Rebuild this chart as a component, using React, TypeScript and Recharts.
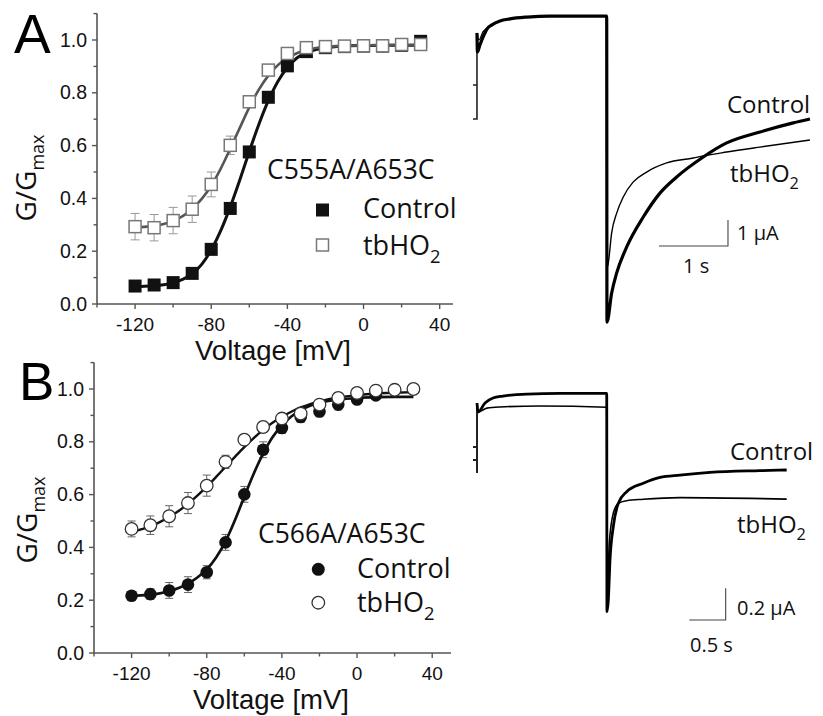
import React from 'react';
import { ComposedChart, LineChart, Line, Scatter, XAxis, YAxis, ErrorBar, Legend } from 'recharts';

const HUM = "'Open Sans', 'Noto Sans', sans-serif";
const ARIAL = "'Liberation Sans', Arial, sans-serif";
const AX = '#555';

// ---------- Panel A: C555A/A653C ----------
const voltages = [-120, -110, -100, -90, -80, -70, -60, -50, -40, -30, -20, -10, 0, 10, 20, 30];
const aControl = [0.068, 0.072, 0.081, 0.116, 0.207, 0.362, 0.576, 0.783, 0.902, 0.956, 0.971, 0.975, 0.977, 0.977, 0.98, 0.995];
const aControlErr = [0.01, 0.01, 0.01, 0.01, 0.01, 0.01, 0.01, 0.01, 0.01, 0.01, 0.01, 0.01, 0.01, 0.01, 0.01, 0.01];
const aTb = [0.293, 0.289, 0.316, 0.359, 0.453, 0.601, 0.766, 0.886, 0.949, 0.971, 0.975, 0.977, 0.978, 0.978, 0.983, 0.983];
const aTbErr = [0.05, 0.05, 0.05, 0.05, 0.047, 0.035, 0.02, 0.015, 0.012, 0.01, 0.01, 0.01, 0.012, 0.01, 0.012, 0.012];

const fitVoltages = [-120, -115, -110, -105, -100, -95, -90, -85, -80, -75, -70, -65, -60, -55, -50, -45, -40, -35, -30, -25, -20, -10, 0, 10, 20, 30];
const aControlFit = [0.066, 0.067, 0.069, 0.073, 0.08, 0.093, 0.114, 0.15, 0.205, 0.278, 0.368, 0.47, 0.578, 0.68, 0.77, 0.843, 0.896, 0.932, 0.952, 0.964, 0.971, 0.977, 0.979, 0.98, 0.98, 0.98];
const aTbFit = [0.29, 0.292, 0.296, 0.303, 0.315, 0.333, 0.36, 0.398, 0.448, 0.513, 0.588, 0.667, 0.745, 0.812, 0.865, 0.905, 0.932, 0.95, 0.962, 0.97, 0.974, 0.978, 0.98, 0.981, 0.981, 0.982];

// ---------- Panel B: C566A/A653C ----------
const bControlVoltages = [-120, -110, -100, -90, -80, -70, -60, -50, -40, -30, -20, -10, 0, 10];
const bControl = [0.217, 0.223, 0.237, 0.259, 0.306, 0.419, 0.601, 0.77, 0.852, 0.894, 0.915, 0.941, 0.96, 0.976];
const bControlErr = [0.015, 0.02, 0.03, 0.03, 0.025, 0.03, 0.03, 0.03, 0.02, 0.02, 0.02, 0.02, 0.015, 0.015];
const bTb = [0.47, 0.484, 0.518, 0.568, 0.634, 0.724, 0.808, 0.856, 0.888, 0.907, 0.941, 0.966, 0.985, 0.994, 0.997, 1.0];
const bTbErr = [0.03, 0.035, 0.04, 0.04, 0.04, 0.025, 0.02, 0.02, 0.015, 0.02, 0.015, 0.02, 0.015, 0.02, 0.02, 0.01];
const bControlFit = [0.216, 0.218, 0.221, 0.226, 0.234, 0.246, 0.263, 0.286, 0.317, 0.362, 0.423, 0.503, 0.592, 0.679, 0.755, 0.817, 0.862, 0.896, 0.92, 0.937, 0.948, 0.96, 0.966, 0.969, 0.97, 0.97];
const bTbFit = [0.458, 0.468, 0.48, 0.496, 0.515, 0.538, 0.565, 0.596, 0.63, 0.667, 0.705, 0.743, 0.78, 0.814, 0.845, 0.872, 0.895, 0.914, 0.93, 0.943, 0.953, 0.968, 0.977, 0.983, 0.986, 0.988];

const xTicks = [-140, -120, -100, -80, -60, -40, -20, 0, 20, 40];
const yTicks = [0, 0.1, 0.2, 0.3, 0.4, 0.5, 0.6, 0.7, 0.8, 0.9, 1.0, 1.1];

// ---------- Current traces A (time in s, current in µA) ----------
const aHoldT = [-0.058, 0, 0, -0.058, 0, 0];
const aHoldI = [0, 0, 1.31, 1.31, 1.31, 3.31];
const aTraceCtrlT = [0, 0.007, 0.043, 0.101, 0.145, 0.217, 0.333, 0.478, 0.725, 1.058, 1.88, 1.884, 1.952, 2.025, 2.17, 2.41, 2.652, 2.894, 3.28, 3.619, 4.101, 4.584, 4.826];
const aTraceCtrlI = [3.31, 2.58, 2.85, 3.23, 3.46, 3.62, 3.77, 3.85, 3.92, 3.96, 3.96, -7.81, -6.69, -5.92, -4.92, -3.77, -2.85, -2.23, -1.46, -0.92, -0.5, -0.15, 0.0];
const aTraceTbT = [0, 0.029, 0.087, 0.145, 0.217, 0.333, 0.478, 0.725, 1.058, 1.88, 1.891, 1.903, 1.952, 2.025, 2.12, 2.265, 2.459, 2.749, 3.135, 3.28, 3.619, 4.101, 4.826];
const aTraceTbI = [3.31, 3.04, 3.35, 3.5, 3.63, 3.77, 3.85, 3.92, 3.96, 3.96, -5.69, -5.54, -4.38, -3.62, -3.0, -2.42, -2.04, -1.69, -1.5, -1.42, -1.27, -1.08, -0.81];
const aScaleT = [2.638, 3.638, 3.638]; // 1 s
const aScaleI = [-4.885, -4.885, -3.885]; // 1 µA

// ---------- Current traces B ----------
const bHoldT = [0, 0, -0.055, 0, 0, -0.055, 0, 0];
const bHoldI = [0, 0.082, 0.082, 0.082, 0.165, 0.165, 0.165, 0.443];
const bTraceCtrlT = [0, 0.014, 0.11, 0.22, 0.357, 0.687, 1.14, 1.782, 1.785, 1.804, 1.827, 1.872, 1.941, 2.056, 2.284, 2.514, 2.788, 3.2, 3.887, 4.254];
const bTraceCtrlI = [0.443, 0.386, 0.443, 0.475, 0.487, 0.5, 0.504, 0.504, -0.878, -0.804, -0.551, -0.34, -0.192, -0.118, -0.065, -0.028, -0.013, 0.004, 0.015, 0.019];
const bTraceTbT = [0, 0.014, 0.137, 0.316, 0.865, 1.782, 1.79, 1.817, 1.872, 1.941, 2.056, 2.284, 2.788, 4.254];
const bTraceTbI = [0.443, 0.386, 0.411, 0.418, 0.424, 0.416, -0.741, -0.445, -0.255, -0.192, -0.175, -0.166, -0.156, -0.165];
const bScaleT = [2.916, 3.416, 3.416]; // 0.5 s
const bScaleI = [-0.93, -0.93, -0.73]; // 0.2 µA

const pts = (xs: number[], ys: number[], es?: number[]) => xs.map((x, i) => ({ v: x, g: ys[i], e: es ? es[i] : 0 }));
const tr = (ts: number[], is: number[]) => ts.map((t, k) => ({ t, i: is[k] }));

const XTick = (props: any) => {
  const { x, y, payload } = props;
  const major = payload.value % 40 === 0;
  return (
    <g>
      <line x1={x} x2={x} y1={y} y2={y + (major ? 5 : 3.5)} stroke={AX} strokeWidth={1.4} />
      {major && (
        <text x={x} y={y + 26.5} textAnchor="middle" fontFamily={ARIAL} fontSize={19} fill="#111">
          {payload.value}
        </text>
      )}
    </g>
  );
};

const YTick = (props: any) => {
  const { x, y, payload } = props;
  const major = Math.round(payload.value * 10) % 2 === 0;
  return (
    <g>
      <line x1={x - (major ? 5 : 3.5)} x2={x} y1={y} y2={y} stroke={AX} strokeWidth={1.4} />
      {major && (
        <text x={x - 10} y={y + 6.5} textAnchor="end" fontFamily={ARIAL} fontSize={19.5} fill="#111">
          {payload.value.toFixed(1)}
        </text>
      )}
    </g>
  );
};

const YLab = (props: any) => (
  <text transform={`translate(${props.px},${props.py}) rotate(-90)`} textAnchor="middle" fontFamily={HUM} fontSize={28} fill="#111">
    G/G<tspan dy={8} fontSize={18}>max</tspan>
  </text>
);

const XLab = (props: any) => (
  <text x={props.px} y={props.py} textAnchor="middle" fontFamily={ARIAL} fontSize={27.5} fill="#111">
    Voltage [mV]
  </text>
);

const Sub2 = ({ x, y, size }: any) => (
  <text x={x} y={y} fontFamily={HUM} fontSize={size} fill="#111">
    tbHO<tspan dy={size * 0.3} fontSize={size * 0.68}>2</tspan>
  </text>
);

const OverlayA = () => (
  <svg width={460} height={370} style={{ display: 'block' }}>
    <text x={14} y={53} fontFamily={ARIAL} fontSize={55} fill="#000">A</text>
    <text x={267} y={179} fontFamily={HUM} fontSize={26.5} fill="#111">C555A/A653C</text>
    <rect x={316} y={203.5} width={13} height={13} fill="#111" />
    <text x={363} y={218} fontFamily={HUM} fontSize={27} fill="#111">Control</text>
    <rect x={316.5} y={239} width={12} height={12} fill="#fff" stroke="#777" strokeWidth={1.5} />
    <Sub2 x={363} y={254.5} size={27} />
  </svg>
);

const OverlayB = () => (
  <svg width={460} height={376} style={{ display: 'block' }}>
    <text x={19} y={60} fontFamily={ARIAL} fontSize={53} fill="#000">B</text>
    <text x={258} y={202.7} fontFamily={HUM} fontSize={26.5} fill="#111">C566A/A653C</text>
    <circle cx={318.3} cy={229.3} r={6.5} fill="#111" />
    <text x={357} y={238.3} fontFamily={HUM} fontSize={27} fill="#111">Control</text>
    <circle cx={318.3} cy={262.7} r={6.3} fill="#fff" stroke="#333" strokeWidth={1.3} />
    <Sub2 x={357} y={271.7} size={27} />
  </svg>
);

const OverlayTraceA = () => (
  <svg width={363} height={340} style={{ display: 'block' }}>
    <text x={267} y={113} fontFamily={HUM} fontSize={24} fill="#111">Control</text>
    <Sub2 x={270} y={182} size={24} />
    <text x={277} y={240} fontFamily={HUM} fontSize={20} fill="#111">1 µA</text>
    <text x={223} y={273} fontFamily={HUM} fontSize={20} fill="#111">1 s</text>
  </svg>
);

const OverlayTraceB = () => (
  <svg width={363} height={376} style={{ display: 'block' }}>
    <text x={270} y={120} fontFamily={HUM} fontSize={24} fill="#111">Control</text>
    <Sub2 x={277} y={193} size={24} />
    <text x={277} y={275} fontFamily={HUM} fontSize={20} fill="#111">0.2 µA</text>
    <text x={230} y={312} fontFamily={HUM} fontSize={20} fill="#111">0.5 s</text>
  </svg>
);

const square = (fill: string, stroke: string, size: number) => (p: any) => (
  <rect x={p.cx - size / 2} y={p.cy - size / 2} width={size} height={size} fill={fill} stroke={stroke} strokeWidth={stroke === 'none' ? 0 : 1.5} />
);
const circle = (fill: string, stroke: string, r: number) => (p: any) => (
  <circle cx={p.cx} cy={p.cy} r={r} fill={fill} stroke={stroke} strokeWidth={stroke === 'none' ? 0 : 1.3} />
);

const legendProps = {
  layout: 'vertical' as const,
  align: 'center' as const,
  verticalAlign: 'middle' as const,
};

const PanelA = () => (
  <ComposedChart width={460} height={370} margin={{ top: 13.6, right: 7, left: 37, bottom: 0 }}>
    <XAxis type="number" dataKey="v" domain={[-140, 47]} ticks={xTicks} allowDataOverflow interval={0}
      axisLine={{ stroke: AX, strokeWidth: 1.6 }} tickLine={false} tickSize={0} tickMargin={0} tick={<XTick />} height={66}
      label={<XLab px={273} py={360} />} />
    <YAxis type="number" domain={[0, 1.1]} ticks={yTicks} allowDataOverflow interval={0} width={60}
      axisLine={{ stroke: AX, strokeWidth: 1.6 }} tickLine={false} tickSize={0} tickMargin={0} tick={<YTick />}
      label={<YLab px={36} py={178} />} />
    <Scatter name="Control" data={pts(voltages, aControl, aControlErr)} dataKey="g" shape={square('#111', 'none', 13)} isAnimationActive={false}>
      <ErrorBar dataKey="e" direction="y" width={4.5} stroke="#999" strokeWidth={1} />
    </Scatter>
    <Scatter name="tbHO2" data={pts(voltages, aTb, aTbErr)} dataKey="g" shape={square('#fff', '#777', 12)} isAnimationActive={false}>
      <ErrorBar dataKey="e" direction="y" width={4.5} stroke="#999" strokeWidth={1} />
    </Scatter>
    <Line data={pts(fitVoltages, aControlFit)} dataKey="g" type="monotone" stroke="#111" strokeWidth={3} dot={false} isAnimationActive={false} legendType="none" />
    <Line data={pts(fitVoltages, aTbFit)} dataKey="g" type="monotone" stroke="#555" strokeWidth={2.6} dot={false} isAnimationActive={false} legendType="none" />
    <Legend {...legendProps} wrapperStyle={{ left: 0, top: 0, width: 460, height: 370, pointerEvents: 'none' }} content={<OverlayA />} />
  </ComposedChart>
);

const PanelB = () => (
  <ComposedChart width={460} height={376} margin={{ top: 22.6, right: 9, left: 34, bottom: 0 }}>
    <XAxis type="number" dataKey="v" domain={[-140, 50]} ticks={xTicks} allowDataOverflow interval={0}
      axisLine={{ stroke: AX, strokeWidth: 1.6 }} tickLine={false} tickSize={0} tickMargin={0} tick={<XTick />} height={63}
      label={<XLab px={271} py={369} />} />
    <YAxis type="number" domain={[0, 1.1]} ticks={yTicks} allowDataOverflow interval={0} width={60}
      axisLine={{ stroke: AX, strokeWidth: 1.6 }} tickLine={false} tickSize={0} tickMargin={0} tick={<YTick />}
      label={<YLab px={37} py={180} />} />
    <Scatter name="Control" data={pts(bControlVoltages, bControl, bControlErr)} dataKey="g" shape={circle('#111', 'none', 6.3)} isAnimationActive={false}>
      <ErrorBar dataKey="e" direction="y" width={4} stroke="#666" strokeWidth={1} />
    </Scatter>
    <Scatter name="tbHO2" data={pts(voltages, bTb, bTbErr)} dataKey="g" shape={circle('#fff', '#333', 6.3)} isAnimationActive={false}>
      <ErrorBar dataKey="e" direction="y" width={4} stroke="#666" strokeWidth={1} />
    </Scatter>
    <Line data={pts(fitVoltages, bControlFit)} dataKey="g" type="monotone" stroke="#111" strokeWidth={2.7} dot={false} isAnimationActive={false} legendType="none" />
    <Line data={pts(fitVoltages, bTbFit)} dataKey="g" type="monotone" stroke="#111" strokeWidth={2.4} dot={false} isAnimationActive={false} legendType="none" />
    <Legend {...legendProps} wrapperStyle={{ left: 0, top: 0, width: 460, height: 376, pointerEvents: 'none' }} content={<OverlayB />} />
  </ComposedChart>
);

const TraceA = () => (
  <LineChart width={363} height={340} margin={{ top: 0, right: 0, left: 0, bottom: 0 }}>
    <XAxis type="number" dataKey="t" domain={[-0.246, 5.015]} allowDataOverflow hide />
    <YAxis type="number" domain={[-8.5, 4.577]} allowDataOverflow hide />
    <Line data={tr(aHoldT, aHoldI)} dataKey="i" type="linear" stroke="#222" strokeWidth={1.6} dot={false} isAnimationActive={false} />
    <Line data={tr(aTraceCtrlT, aTraceCtrlI)} dataKey="i" type="monotone" stroke="#000" strokeWidth={3.2} dot={false} isAnimationActive={false} />
    <Line data={tr(aTraceTbT, aTraceTbI)} dataKey="i" type="monotone" stroke="#000" strokeWidth={1.4} dot={false} isAnimationActive={false} />
    <Line data={tr(aScaleT, aScaleI)} dataKey="i" type="linear" stroke="#444" strokeWidth={1.1} dot={false} isAnimationActive={false} />
    <Legend {...legendProps} wrapperStyle={{ left: 0, top: 0, width: 363, height: 340, pointerEvents: 'none' }} content={<OverlayTraceA />} />
  </LineChart>
);

const TraceB = () => (
  <LineChart width={363} height={376} margin={{ top: 0, right: 0, left: 0, bottom: 0 }}>
    <XAxis type="number" dataKey="t" domain={[-0.2335, 4.753]} allowDataOverflow hide />
    <YAxis type="number" domain={[-1.538, 0.842]} allowDataOverflow hide />
    <Line data={tr(bHoldT, bHoldI)} dataKey="i" type="linear" stroke="#222" strokeWidth={2} dot={false} isAnimationActive={false} />
    <Line data={tr(bTraceCtrlT, bTraceCtrlI)} dataKey="i" type="monotone" stroke="#000" strokeWidth={2.8} dot={false} isAnimationActive={false} />
    <Line data={tr(bTraceTbT, bTraceTbI)} dataKey="i" type="monotone" stroke="#000" strokeWidth={1.6} dot={false} isAnimationActive={false} />
    <Line data={tr(bScaleT, bScaleI)} dataKey="i" type="linear" stroke="#444" strokeWidth={1.1} dot={false} isAnimationActive={false} />
    <Legend {...legendProps} wrapperStyle={{ left: 0, top: 0, width: 363, height: 376, pointerEvents: 'none' }} content={<OverlayTraceB />} />
  </LineChart>
);

export default function App() {
  return (
    <div style={{ position: 'absolute', left: 0, top: 0, width: 823, height: 716, background: '#fff', overflow: 'hidden' }}>
      <div style={{ position: 'absolute', left: 0, top: 0 }}><PanelA /></div>
      <div style={{ position: 'absolute', left: 0, top: 340 }}><PanelB /></div>
      <div style={{ position: 'absolute', left: 460, top: 0 }}><TraceA /></div>
      <div style={{ position: 'absolute', left: 460, top: 340 }}><TraceB /></div>
    </div>
  );
}
